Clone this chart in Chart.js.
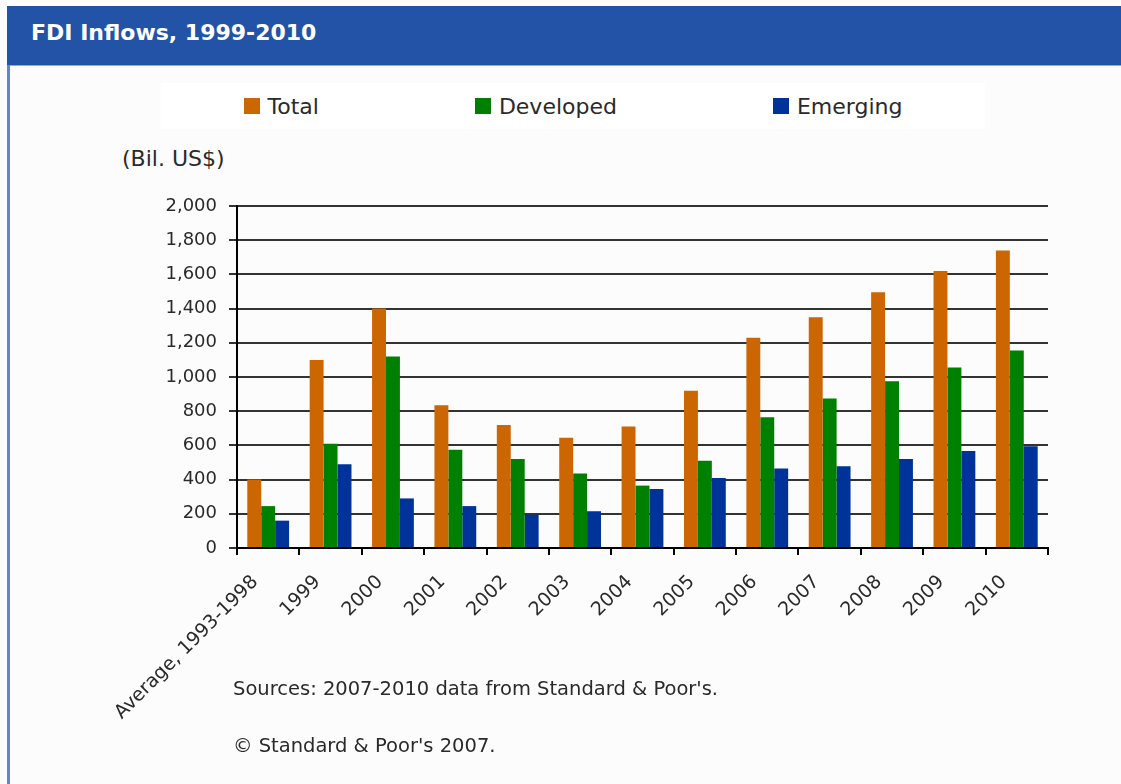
<html lang="en">
<head>
  <meta charset="UTF-8">
  <title>FDI Inflows, 1999-2010</title>
  <script src="https://cdn.jsdelivr.net/npm/chart.js"></script>
  <style>
    html, body { margin: 0; padding: 0; }
    body { width: 1121px; height: 784px; background: #fcfcfc; position: relative; overflow: hidden; font-family: 'DejaVu Sans', sans-serif; }
    .topstrip { position: absolute; left: 0; top: 0; width: 1121px; height: 6px; background: #fff; }
    .header { position: absolute; left: 7px; top: 6px; right: 0; height: 59px; background: #2353a6; border-bottom: 1px solid #8fa8d8; }
    .header h1 { margin: 0; position: absolute; left: 24px; top: 14px; font: bold 22px 'DejaVu Sans', sans-serif; color: #fff; }
    .leftline { position: absolute; left: 7px; top: 65px; width: 3px; bottom: 0; background: #6383cc; }
    .legendbox { position: absolute; left: 161px; top: 83px; width: 824px; height: 46px; background: #fff;
      display: flex; justify-content: center; align-items: center; gap: 156px; }
    .legendbox span.item { display: flex; align-items: center; font-size: 22px; color: #2a2a2a; }
    .legendbox i { display: inline-block; width: 16px; height: 16px; margin-right: 8px; }
    .unit { position: absolute; left: 122px; top: 146px; font-size: 22px; color: #2a2a2a; }
    .note { position: absolute; left: 233px; font-size: 19.5px; color: #2a2a2a; }
    #wrap { position: absolute; left: 0; top: 0; width: 1121px; height: 784px; }
  </style>
</head>
<body>
  <div class="topstrip"></div>
  <div class="header"><h1>FDI Inflows, 1999-2010</h1></div>
  <div class="leftline"></div>
  <div class="legendbox" id="legend"></div>
  <div class="unit">(Bil. US$)</div>
  <div id="wrap"><canvas id="viz"></canvas></div>
  <div class="note" style="top: 677px;">Sources: 2007-2010 data from Standard &amp; Poor's.</div>
  <div class="note" style="top: 734px;">© Standard &amp; Poor's 2007.</div>

  <script>
    const categories = ['Average, 1993-1998', '1999', '2000', '2001', '2002', '2003', '2004',
      '2005', '2006', '2007', '2008', '2009', '2010']
    const total = [400, 1100, 1400, 835, 720, 645, 710, 920, 1230, 1350, 1495, 1620, 1740]
    const developed = [245, 610, 1120, 575, 520, 435, 365, 510, 765, 875, 975, 1055, 1155]
    const emerging = [160, 490, 290, 245, 195, 215, 345, 410, 465, 478, 520, 567, 595]
    const seriesNames = ['Total', 'Developed', 'Emerging']
    const seriesColors = ['#cc6600', '#008000', '#003399']
    const yTicks = [0, 200, 400, 600, 800, 1000, 1200, 1400, 1600, 1800, 2000]

    Chart.defaults.font.family = "'DejaVu Sans', sans-serif"
    Chart.defaults.color = '#2a2a2a'

    const seriesData = [total, developed, emerging]
    const datasets = seriesNames.map((name, i) => ({
      label: name,
      data: seriesData[i],
      backgroundColor: seriesColors[i],
      borderWidth: 0,
      categoryPercentage: 0.67,
      barPercentage: 1
    }))

    // html legend, built from the series
    const legend = document.getElementById('legend')
    seriesNames.forEach((name, i) => {
      const item = document.createElement('span')
      item.className = 'item'
      item.innerHTML = `<i style="background:${seriesColors[i]}"></i>${name}`
      legend.appendChild(item)
    })

    new Chart(document.getElementById('viz'), {
      type: 'bar',
      data: { labels: categories, datasets },
      options: {
        responsive: true,
        maintainAspectRatio: false,
        animation: false,
        layout: { padding: { top: 206, left: 0, right: 73, bottom: 0 } },
        plugins: { legend: { display: false }, tooltip: { enabled: false } },
        scales: {
          x: {
            afterFit: (scale) => { scale.height = 236 },
            grid: { offset: true, drawOnChartArea: false, drawTicks: true, tickLength: 7, color: '#000', lineWidth: 2 },
            border: { display: true, color: '#000', width: 2 },
            ticks: {
              autoSkip: false, minRotation: 45, maxRotation: 45, padding: 16, labelOffset: -13,
              font: { size: 19 }, color: '#2a2a2a'
            }
          },
          y: {
            min: 0,
            max: 2000,
            afterFit: (scale) => { scale.width = 237 },
            afterBuildTicks: (scale) => { scale.ticks = yTicks.map(v => ({ value: v })) },
            grid: { color: '#333', lineWidth: 2, drawTicks: true, tickLength: 8 },
            border: { display: true, color: '#000', width: 2 },
            ticks: {
              padding: 12, font: { size: 18 }, color: '#2a2a2a',
              callback: (v) => v.toLocaleString('en-US')
            }
          }
        }
      }
    })
  </script>
</body>
</html>
